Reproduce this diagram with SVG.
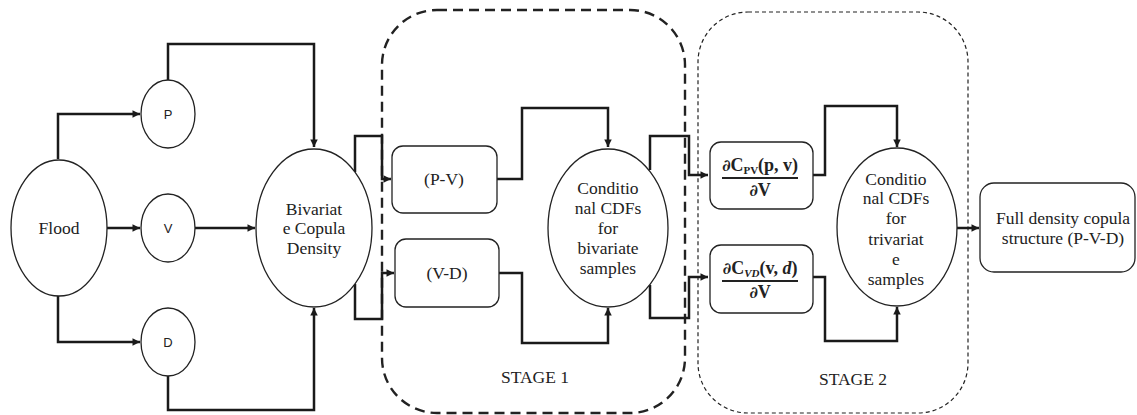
<svg xmlns="http://www.w3.org/2000/svg" width="1137" height="415" viewBox="0 0 1137 415">
<style>
.n{fill:#fff;stroke:#222;stroke-width:1.3}
.c{fill:none;stroke:#1a1a1a;stroke-width:2.5}
.t{font-family:"Liberation Serif",serif;font-size:17.5px;fill:#222;text-anchor:middle}
.s{font-family:"Liberation Sans",sans-serif;font-size:13px;fill:#222;text-anchor:middle}
.b{font-family:"Liberation Serif",serif;font-size:18px;font-weight:bold;fill:#222;text-anchor:middle}
.pd{font-family:"DejaVu Serif",serif;font-weight:bold;font-size:16px}
</style>
<defs>
<marker id="a" viewBox="0 0 10 10" refX="10" refY="5" markerWidth="3.4" markerHeight="3" orient="auto" markerUnits="strokeWidth">
<path d="M0,0L10,5L0,10z" fill="#1a1a1a"/>
</marker>
</defs>
<rect x="382" y="10" width="303" height="403" rx="55" fill="none" stroke="#222" stroke-width="2.4" stroke-dasharray="10,6"/>
<rect x="698" y="12" width="270" height="401" rx="50" fill="none" stroke="#222" stroke-width="1.2" stroke-dasharray="4,3"/>
<g id="connectors">
<path class="c" d="M58,159V114H140" marker-end="url(#a)"/>
<path class="c" d="M107,228H140" marker-end="url(#a)"/>
<path class="c" d="M58,296V342H140" marker-end="url(#a)"/>
<path class="c" d="M168,81V44H314V147" marker-end="url(#a)"/>
<path class="c" d="M195,228H255" marker-end="url(#a)"/>
<path class="c" d="M168,376V410H314V308" marker-end="url(#a)"/>
<path class="c" d="M355,172V136H382V179H391" marker-end="url(#a)"/>
<path class="c" d="M355,284V319H382V273H394" marker-end="url(#a)"/>
<path class="c" d="M497,179H522V108H608V147" marker-end="url(#a)"/>
<path class="c" d="M499,273H522V343H608V308" marker-end="url(#a)"/>
<path class="c" d="M650,170V136H689V175H708" marker-end="url(#a)"/>
<path class="c" d="M650,285V318H689V277H708" marker-end="url(#a)"/>
<path class="c" d="M813,175H825V106H897V147" marker-end="url(#a)"/>
<path class="c" d="M813,277H825V341H897V307" marker-end="url(#a)"/>
<path class="c" d="M957,228H979" marker-end="url(#a)"/>
</g>
<g id="flood"><ellipse class="n" cx="59" cy="228" rx="48" ry="68"/><text class="t" x="59" y="234">Flood</text></g>
<g id="p"><ellipse class="n" cx="168" cy="114" rx="27" ry="34"/><text class="s" x="168" y="119">P</text></g>
<g id="v"><ellipse class="n" cx="168" cy="228" rx="27" ry="34"/><text class="s" x="168" y="233">V</text></g>
<g id="d"><ellipse class="n" cx="168" cy="342" rx="27" ry="34"/><text class="s" x="168" y="347">D</text></g>
<g id="bivariate"><ellipse class="n" cx="314" cy="228" rx="58" ry="79"/>
<text class="t" x="314" y="215">Bivariat</text><text class="t" x="314" y="234">e Copula</text><text class="t" x="314" y="254">Density</text></g>
<g id="pv"><rect class="n" x="392" y="146" width="105" height="67" rx="11"/><text class="t" x="444" y="185">(P-V)</text></g>
<g id="vd"><rect class="n" x="395" y="239" width="104" height="68" rx="11"/><text class="t" x="447" y="279">(V-D)</text></g>
<g id="cond1"><ellipse class="n" cx="608" cy="228" rx="60" ry="79"/>
<text class="t" x="608" y="194">Conditio</text><text class="t" x="608" y="214">nal CDFs</text><text class="t" x="608" y="234">for</text><text class="t" x="608" y="254">bivariate</text><text class="t" x="608" y="274">samples</text></g>
<text class="t" x="535" y="383">STAGE 1</text>
<g id="dpv"><rect class="n" x="710" y="142" width="103" height="67" rx="11"/>
<text class="b" x="760" y="171"><tspan class="pd">∂</tspan>C<tspan font-size="11" dy="3">PV</tspan><tspan dy="-3">(p, v)</tspan></text>
<line x1="722" y1="178" x2="798" y2="178" stroke="#222" stroke-width="2"/>
<text class="b" x="760" y="196"><tspan class="pd">∂</tspan>V</text></g>
<g id="dvd"><rect class="n" x="710" y="245" width="103" height="68" rx="11"/>
<text class="b" x="760" y="274"><tspan class="pd">∂</tspan>C<tspan font-size="11" dy="3" font-style="italic">VD</tspan><tspan dy="-3">(v, <tspan font-style="italic">d</tspan>)</tspan></text>
<line x1="722" y1="281" x2="798" y2="281" stroke="#222" stroke-width="2"/>
<text class="b" x="760" y="298"><tspan class="pd">∂</tspan>V</text></g>
<g id="cond2"><ellipse class="n" cx="897" cy="227" rx="60" ry="79"/>
<text class="t" x="896" y="185">Conditio</text><text class="t" x="896" y="204">nal CDFs</text><text class="t" x="896" y="224">for</text><text class="t" x="896" y="245">trivariat</text><text class="t" x="896" y="265">e</text><text class="t" x="896" y="285">samples</text></g>
<text class="t" x="853" y="385">STAGE 2</text>
<g id="full"><rect class="n" x="980" y="183" width="155" height="89" rx="14"/>
<text class="t" x="1063" y="224">Full density copula</text><text class="t" x="1063" y="244">structure (P-V-D)</text></g>
</svg>
